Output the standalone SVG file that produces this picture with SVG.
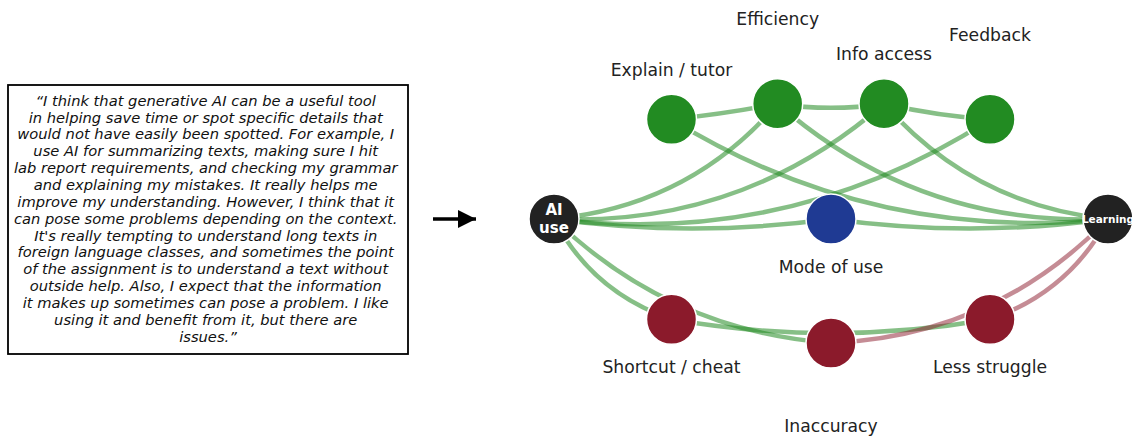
<svg xmlns="http://www.w3.org/2000/svg" width="1136" height="436" viewBox="0 0 1136 436">
  <defs>
    <marker id="head" viewBox="0 0 18 18" refX="18" refY="9" markerWidth="18" markerHeight="18" markerUnits="userSpaceOnUse" orient="auto">
      <path d="M0,0 L18,9 L0,18 Z" fill="#000"/>
    </marker>
  </defs>
  <style>
    .quote { font-family: "DejaVu Sans", "Liberation Sans", sans-serif; font-style: italic; font-size: 14.7px; fill: #111; text-anchor: middle; }
    .label { font-family: "DejaVu Sans", "Liberation Sans", sans-serif; font-size: 17.2px; fill: #222; text-anchor: middle; }
    .inner { font-family: "DejaVu Sans", "Liberation Sans", sans-serif; font-weight: bold; fill: #fff; text-anchor: middle; }
    .edge { fill: none; stroke-width: 4.5; stroke-linecap: butt; }
    .pos { stroke: #228B22; stroke-opacity: 0.55; }
    .neg { stroke: #8B1A2B; stroke-opacity: 0.5; }
    .node { stroke: #fff; stroke-width: 1.5; }
    .hub { fill: #222; }
    .good { fill: #228B22; }
    .bad { fill: #8B1A2B; }
    .mode { fill: #1F3A93; }
  </style>

  <!-- quotation panel -->
  <g id="quote">
    <rect x="8" y="85" width="400" height="269" fill="#fff" stroke="#000" stroke-width="1.8"/>
    <text class="quote" x="208">
      <tspan x="208" y="105.7">“I think that generative AI can be a useful tool</tspan>
      <tspan x="208" y="122.6">in helping save time or spot specific details that</tspan>
      <tspan x="208" y="139.4">would not have easily been spotted. For example, I</tspan>
      <tspan x="208" y="156.3">use AI for summarizing texts, making sure I hit</tspan>
      <tspan x="208" y="173.1">lab report requirements, and checking my grammar</tspan>
      <tspan x="208" y="190.0">and explaining my mistakes. It really helps me</tspan>
      <tspan x="208" y="206.9">improve my understanding. However, I think that it</tspan>
      <tspan x="208" y="223.7">can pose some problems depending on the context.</tspan>
      <tspan x="208" y="240.6">It's really tempting to understand long texts in</tspan>
      <tspan x="208" y="257.4">foreign language classes, and sometimes the point</tspan>
      <tspan x="208" y="274.3">of the assignment is to understand a text without</tspan>
      <tspan x="208" y="291.2">outside help. Also, I expect that the information</tspan>
      <tspan x="208" y="308.0">it makes up sometimes can pose a problem. I like</tspan>
      <tspan x="208" y="324.9">using it and benefit from it, but there are</tspan>
      <tspan x="208" y="341.7">issues.”</tspan>
    </text>
  </g>

  <!-- pointer from quote to network -->
  <g id="pointer">
    <line x1="433" y1="219" x2="476" y2="219" stroke="#000" stroke-width="3.5" marker-end="url(#head)"/>
  </g>

  <!-- connectors -->
  <g id="connectors">
    <path class="edge pos" d="M671.5,119.3 Q725,114 777.7,103.7"/>
    <path class="edge pos" d="M777.7,103.7 Q831,112 884,103.7"/>
    <path class="edge pos" d="M884,103.7 Q938,116 990,119.3"/>
    <path class="edge pos" d="M554,219 Q690,206 777.7,103.7"/>
    <path class="edge pos" d="M554,219 Q742,227 884,103.7"/>
    <path class="edge pos" d="M554,219 Q790,248 990,119.3"/>
    <path class="edge pos" d="M671.5,119.3 Q872,243 1108,219"/>
    <path class="edge pos" d="M777.7,103.7 Q919,227 1108,219"/>
    <path class="edge pos" d="M884,103.7 Q973,205 1108,219"/>
    <path class="edge pos" d="M554,219 Q692,238 831,219"/>
    <path class="edge pos" d="M831,219 Q970,238 1108,219"/>
    <path class="edge pos" d="M554,219 Q592,292 671.5,319.3"/>
    <path class="edge pos" d="M554,219 Q670,331 831,343"/>
    <path class="edge pos" d="M671.5,319.3 Q831,347 990,319.3"/>
    <path class="edge neg" d="M831,343 Q994,336 1108,219"/>
    <path class="edge neg" d="M990,319.3 Q1069,292 1108,219"/>
  </g>

  <!-- nodes -->
  <g id="ai-use">
    <circle class="node hub" cx="554" cy="219" r="25"/>
    <text class="inner" x="554" y="215" font-size="15">AI</text>
    <text class="inner" x="554" y="233" font-size="15">use</text>
  </g>
  <g id="learning">
    <circle class="node hub" cx="1108" cy="219" r="25"/>
    <text class="inner" x="1108" y="223" font-size="10.5">Learning</text>
  </g>
  <g id="explain-tutor">
    <circle class="node good" cx="671.5" cy="119.3" r="25"/>
    <text class="label" x="671.5" y="76.3">Explain / tutor</text>
  </g>
  <g id="efficiency">
    <circle class="node good" cx="777.7" cy="103.7" r="25"/>
    <text class="label" x="777.7" y="24.8">Efficiency</text>
  </g>
  <g id="info-access">
    <circle class="node good" cx="884" cy="103.7" r="25"/>
    <text class="label" x="884" y="60.3">Info access</text>
  </g>
  <g id="feedback">
    <circle class="node good" cx="990" cy="119.3" r="25"/>
    <text class="label" x="990" y="40.8">Feedback</text>
  </g>
  <g id="mode-of-use">
    <circle class="node mode" cx="831" cy="219" r="25"/>
    <text class="label" x="831" y="272.6">Mode of use</text>
  </g>
  <g id="shortcut-cheat">
    <circle class="node bad" cx="671.5" cy="319.3" r="25"/>
    <text class="label" x="671.5" y="372.5">Shortcut / cheat</text>
  </g>
  <g id="inaccuracy">
    <circle class="node bad" cx="831" cy="343" r="25"/>
    <text class="label" x="831" y="431.8">Inaccuracy</text>
  </g>
  <g id="less-struggle">
    <circle class="node bad" cx="990" cy="319.3" r="25"/>
    <text class="label" x="990" y="372.5">Less struggle</text>
  </g>
</svg>
